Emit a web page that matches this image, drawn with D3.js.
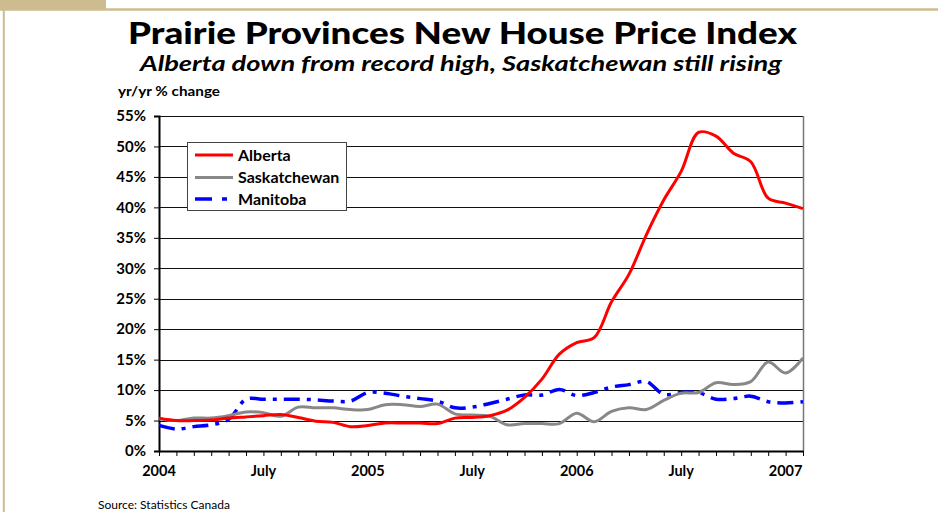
<!DOCTYPE html>
<html>
<head>
<meta charset="utf-8">
<script src="https://cdn.jsdelivr.net/npm/d3@7"></script>
<style>
  body { margin: 0; background: #fff; }
  svg text { font-family: Lato, "Open Sans", sans-serif; }
</style>
</head>
<body>
<svg id="chart" width="938" height="512"></svg>
<script>
// monthly yr/yr % change, Jan 2004 .. Feb 2007 (38 months)
const alberta = [5.4, 5.0, 5.0, 5.1, 5.4, 5.6, 5.8, 6.0, 5.5, 4.9, 4.7, 4.0,
  4.2, 4.6, 4.6, 4.6, 4.5, 5.4, 5.5, 5.8, 6.7, 8.8, 11.8, 15.9,
  17.8, 18.6, 24.5, 29.0, 35.5, 41.2, 45.9, 52.3, 51.7, 48.9, 47.5, 41.5,
  40.7, 39.8];
const saskatchewan = [5.3, 5.0, 5.4, 5.4, 5.8, 6.4, 6.3, 5.7, 7.2, 7.1, 7.1, 6.8,
  6.8, 7.6, 7.6, 7.3, 7.7, 6.1, 5.9, 5.7, 4.3, 4.5, 4.5, 4.5,
  6.2, 4.8, 6.5, 7.1, 6.8, 8.3, 9.5, 9.6, 11.2, 10.9, 11.4, 14.6,
  12.8, 15.3];
const manitoba = [4.2, 3.6, 4.0, 4.3, 5.2, 8.5, 8.5, 8.5, 8.5, 8.4, 8.2, 8.2,
  9.6, 9.5, 9.0, 8.6, 8.2, 7.1, 7.2, 7.8, 8.5, 9.2, 9.2, 10.1,
  9.1, 9.6, 10.5, 10.9, 11.4, 9.3, 9.6, 9.6, 8.5, 8.6, 9.0, 8.1,
  7.9, 8.1];

const seriesNames = ['Alberta', 'Saskatchewan', 'Manitoba'];
const xTickIdx = [0, 6, 12, 18, 24, 30, 36];
const xTickLabels = ['2004', 'July', '2005', 'July', '2006', 'July', '2007'];
const yTicks = [0, 5, 10, 15, 20, 25, 30, 35, 40, 45, 50, 55];

const svg = d3.select('#chart');
const tan = '#cdbc8f';

// page frame
svg.append('rect').attr('x', 0).attr('y', 0).attr('width', 106).attr('height', 10).attr('fill', tan);
svg.append('line').attr('x1', 0).attr('x2', 938).attr('y1', 9.5).attr('y2', 9.5)
  .attr('stroke', tan).attr('stroke-width', 2.5);
svg.append('line').attr('x1', 3.8).attr('x2', 3.8).attr('y1', 9).attr('y2', 512)
  .attr('stroke', tan).attr('stroke-width', 2);

// titles (widths fixed to the original's Gill Sans look)
svg.append('text').attr('x', 128).attr('y', 44)
  .attr('font-size', 31).attr('font-weight', 900)
  .attr('textLength', 669).attr('lengthAdjust', 'spacingAndGlyphs')
  .text('Prairie Provinces New House Price Index');
svg.append('text').attr('x', 140).attr('y', 71)
  .attr('font-size', 20).attr('font-weight', 700).attr('font-style', 'italic')
  .attr('textLength', 642).attr('lengthAdjust', 'spacingAndGlyphs')
  .text('Alberta down from record high, Saskatchewan still rising');
svg.append('text').attr('x', 118).attr('y', 96)
  .attr('font-size', 13).attr('font-weight', 700)
  .attr('textLength', 102).attr('lengthAdjust', 'spacingAndGlyphs')
  .text('yr/yr % change');

// scales
const x = d3.scaleLinear().domain([0, 37]).range([159, 803]);
const y = d3.scaleLinear().domain([0, 55]).range([451, 116]);

// gridlines
svg.append('g').selectAll('line').data(yTicks.filter(d => d > 0)).join('line')
  .attr('x1', x(0)).attr('x2', x(37))
  .attr('y1', d => Math.round(y(d)) + 0.5).attr('y2', d => Math.round(y(d)) + 0.5)
  .attr('stroke', '#111').attr('stroke-width', 1);

// right border
svg.append('line').attr('x1', x(37) + 0.5).attr('x2', x(37) + 0.5)
  .attr('y1', y(55)).attr('y2', y(0)).attr('stroke', '#777').attr('stroke-width', 1.5);

// y axis
const yAxis = svg.append('g').attr('transform', `translate(${x(0)},0)`)
  .call(d3.axisLeft(y).tickValues(yTicks).tickFormat(d => d + '%').tickSize(5).tickPadding(8));
yAxis.select('.domain').attr('stroke', '#000').attr('stroke-width', 2);
yAxis.selectAll('.tick line').attr('stroke', '#000');
yAxis.selectAll('.tick text').attr('font-size', 15).attr('font-weight', 700)
  .attr('fill', '#000').style('font-family', 'Lato, sans-serif');

// x axis
const xAxis = svg.append('g').attr('transform', `translate(0,${y(0)})`)
  .call(d3.axisBottom(x).tickValues(d3.range(0, 38)).tickFormat('').tickSize(5).tickSizeOuter(0));
xAxis.select('.domain').attr('stroke', '#000').attr('stroke-width', 2);
xAxis.selectAll('.tick line').attr('stroke', '#000').attr('stroke-width', 1);

svg.append('g').selectAll('text').data(xTickIdx).join('text')
  .attr('x', d => x(d)).attr('y', 476).attr('text-anchor', 'middle')
  .attr('font-size', 14.5).attr('font-weight', 700)
  .text((d, i) => xTickLabels[i]);

// lines
const line = d3.line().x((d, i) => x(i)).y(d => y(d)).curve(d3.curveCatmullRom.alpha(0.5));
const styles = [
  { data: alberta, color: '#ff0000', width: 3, dash: null },
  { data: saskatchewan, color: '#888888', width: 3, dash: null },
  { data: manitoba, color: '#0000ff', width: 3.5, dash: '16,7,4,7' }
];
// Manitoba first so the others sit on top
[2, 1, 0].forEach(k => {
  const s = styles[k];
  svg.append('path').datum(s.data)
    .attr('d', line).attr('fill', 'none')
    .attr('stroke', s.color).attr('stroke-width', s.width)
    .attr('stroke-dasharray', s.dash)
    .attr('stroke-linejoin', 'round');
});

// legend
const leg = svg.append('g');
leg.append('rect').attr('x', 187.5).attr('y', 142.5).attr('width', 159).attr('height', 68)
  .attr('fill', '#fff').attr('stroke', '#444').attr('stroke-width', 1);
const legRows = [155, 177.5, 199];
seriesNames.forEach((name, k) => {
  const s = styles[k];
  leg.append('line').attr('x1', 195).attr('x2', 233).attr('y1', legRows[k]).attr('y2', legRows[k])
    .attr('stroke', s.color).attr('stroke-width', s.width)
    .attr('stroke-dasharray', s.dash ? '17,10,5,10' : null);
  leg.append('text').attr('x', 238).attr('y', legRows[k] + 5.5)
    .attr('font-size', 16).attr('font-weight', 700).text(name);
});

// source
svg.append('text').attr('x', 98).attr('y', 509).attr('font-size', 12).text('Source: Statistics Canada');
</script>
</body>
</html>
